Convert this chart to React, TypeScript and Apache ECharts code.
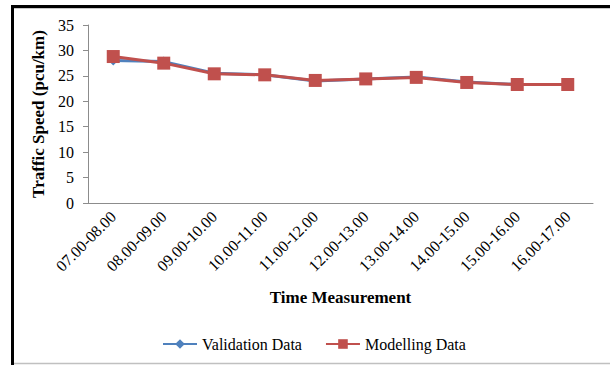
import React, { useEffect, useRef } from "react";
import * as echarts from "echarts";

// Hourly time windows along the x axis
const timeSlots = [
  "07.00-08.00",
  "08.00-09.00",
  "09.00-10.00",
  "10.00-11.00",
  "11.00-12.00",
  "12.00-13.00",
  "13.00-14.00",
  "14.00-15.00",
  "15.00-16.00",
  "16.00-17.00",
];

// Traffic speed (pcu/km)
const validationData = [28.0, 27.8, 25.5, 25.2, 24.0, 24.4, 24.8, 23.8, 23.3, 23.3];
const modellingData = [28.8, 27.5, 25.4, 25.2, 24.1, 24.4, 24.7, 23.7, 23.3, 23.3];

const FONT = "Liberation Serif";

export default function App() {
  const ref = useRef<HTMLDivElement>(null);

  useEffect(() => {
    if (!ref.current) return;
    const chart = echarts.init(ref.current, undefined, { renderer: "svg" });
    chart.setOption({
      animation: false,
      backgroundColor: "#ffffff",
      textStyle: { fontFamily: FONT, color: "#000" },
      grid: { left: 88, right: 17, top: 25, bottom: 162, containLabel: false },
      legend: {
        bottom: 8,
        left: 157,
        itemGap: 23,
        itemWidth: 34,
        itemHeight: 12,
        textStyle: { fontFamily: FONT, fontSize: 16, color: "#000" },
        data: ["Validation Data", "Modelling Data"],
      },
      xAxis: {
        type: "category",
        data: timeSlots,
        boundaryGap: true,
        name: "Time Measurement",
        nameLocation: "middle",
        nameGap: 86,
        nameTextStyle: { fontFamily: FONT, fontSize: 17, fontWeight: "bold", color: "#000" },
        axisLine: { lineStyle: { color: "#8c8c8c", width: 1 } },
        axisTick: { show: false },
        axisLabel: { rotate: 45, fontFamily: FONT, fontSize: 16, color: "#000", margin: 11, interval: 0 },
      },
      yAxis: {
        type: "value",
        min: 0,
        max: 35,
        interval: 5,
        name: "Traffic Speed (pcu/km)",
        nameLocation: "middle",
        nameGap: 35,
        nameTextStyle: { fontFamily: FONT, fontSize: 17, fontWeight: "bold", color: "#000" },
        axisLine: { show: true, lineStyle: { color: "#8c8c8c", width: 1 } },
        axisTick: { show: true, length: 5, lineStyle: { color: "#8c8c8c" } },
        splitLine: { show: false },
        axisLabel: { fontFamily: FONT, fontSize: 16, color: "#000", margin: 14 },
      },
      series: [
        {
          name: "Validation Data",
          type: "line",
          data: validationData,
          symbol: "diamond",
          symbolSize: 10,
          lineStyle: { color: "#4F81BD", width: 3 },
          itemStyle: { color: "#4F81BD" },
        },
        {
          name: "Modelling Data",
          type: "line",
          data: modellingData,
          symbol: "rect",
          symbolSize: 13,
          lineStyle: { color: "#C0504D", width: 3 },
          itemStyle: { color: "#C0504D" },
        },
      ],
      graphic: [
        { type: "rect", shape: { x: 11, y: 5, width: 3, height: 360 }, style: { fill: "#000" }, silent: true },
        { type: "rect", shape: { x: 11, y: 5, width: 599, height: 3 }, style: { fill: "#000" }, silent: true },
        { type: "line", shape: { x1: 14, y1: 8.5, x2: 610, y2: 8.5 }, style: { stroke: "#c8c8c8", lineWidth: 1 }, silent: true },
        { type: "line", shape: { x1: 14, y1: 363.5, x2: 610, y2: 363.5 }, style: { stroke: "#c0c0c0", lineWidth: 1.5 }, silent: true },
      ],
    });
    return () => chart.dispose();
  }, []);

  return (
    <div
      ref={ref}
      style={{ position: "absolute", left: 0, top: 0, width: 610, height: 365 }}
    />
  );
}
